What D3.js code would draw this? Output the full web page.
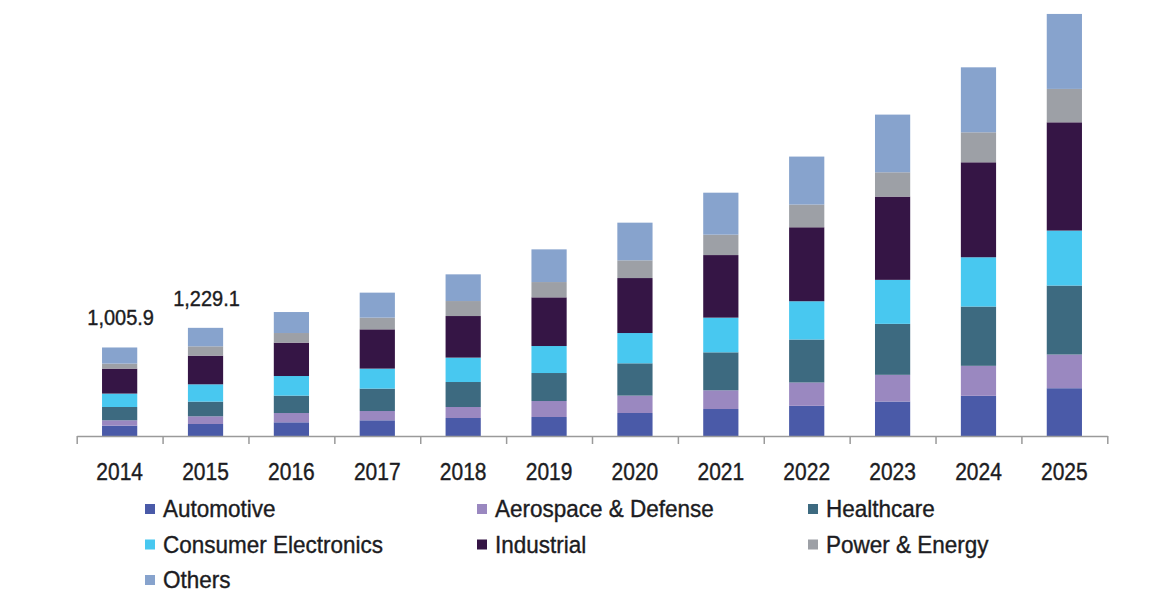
<!DOCTYPE html>
<html>
<head>
<meta charset="utf-8">
<script src="https://cdn.jsdelivr.net/npm/d3@7"></script>
<style>
  body { margin: 0; background: #fff; }
  text { font-family: "Liberation Sans", Arial, sans-serif; fill: #1c1c22; stroke: #1c1c22; stroke-width: 0.35px; }
</style>
</head>
<body>
<div id="chart"></div>
<script>
// data
const years = ["2014","2015","2016","2017","2018","2019","2020","2021","2022","2023","2024","2025"];
const automotive = [118.2, 136.3, 155.6, 178.4, 204.5, 215.8, 261.3, 306.7, 343.1, 391.9, 456.7, 543.0];
const aerospace  = [60.4, 87.5, 105.6, 105.6, 125.0, 181.8, 197.7, 212.4, 264.7, 303.3, 340.8, 382.8];
const healthcare = [151.1, 167.0, 197.7, 254.5, 284.0, 318.1, 366.9, 431.7, 488.5, 579.4, 673.6, 783.8];
const consumer   = [152.2, 196.5, 222.7, 227.2, 277.2, 306.7, 344.2, 394.2, 435.1, 499.8, 560.0, 624.8];
const industrial = [284.0, 326.0, 379.4, 446.4, 472.6, 553.2, 624.8, 711.1, 840.6, 946.3, 1079.2, 1230.3];
const power      = [56.8, 105.6, 109.1, 132.9, 170.4, 173.8, 201.1, 231.7, 257.9, 276.0, 340.8, 379.4];
const others     = [183.2, 210.2, 238.6, 284.0, 303.3, 371.5, 428.3, 477.1, 545.3, 655.5, 738.4, 852.0];
const seriesNames = ["Automotive","Aerospace & Defense","Healthcare","Consumer Electronics","Industrial","Power & Energy","Others"];
const labeledYears = ["2014","2015"];

const colors = ["#4a5aa8","#9a88c0","#3d6a80","#48c8f0","#351545","#9da0a6","#87a3cd"];

const width = 1164, height = 592;
const svg = d3.select('#chart').append('svg')
    .attr('width', width)
    .attr('height', height);

// build rows for the stack
const allSeries = [automotive, aerospace, healthcare, consumer, industrial, power, others];
const rows = years.map((y, i) => {
    const r = {year: y};
    seriesNames.forEach((s, k) => r[s] = allSeries[k][i]);
    return r;
});
const stacked = d3.stack().keys(seriesNames)(rows);

//scales
const xScale = d3.scaleBand()
    .domain(years)
    .range([76.7, 1107.3])
    .paddingInner(0.59)
    .paddingOuter(0.295);
const yScale = d3.scaleLinear([0, 5000], [436, -4]);

//bars
svg.append('g').selectAll('g')
    .data(stacked)
    .enter()
    .append('g')
    .attr('fill', (d, i) => colors[i])
    .selectAll('rect')
    .data(d => d)
    .enter()
    .append('rect')
    .attr('x', d => xScale(d.data.year))
    .attr('y', d => yScale(d[1]))
    .attr('width', xScale.bandwidth())
    .attr('height', d => yScale(d[0]) - yScale(d[1]));

//axis line with ticks between the bars
const idx = d3.scaleLinear([0, years.length], [76.7, 1107.3]);
const tickAxis = svg.append('g')
    .attr('transform', 'translate(0,436)')
    .call(d3.axisBottom(idx).tickValues(d3.range(years.length + 1)).tickFormat('').tickSizeInner(8).tickSizeOuter(0));
tickAxis.selectAll('path, line').attr('stroke', '#9a9a9a').attr('stroke-width', 1.5);

//year labels
const stretch = 'scale(1,1.12)';
svg.append('g').selectAll('g')
    .data(years)
    .enter()
    .append('g')
    .attr('transform', d => `translate(${xScale(d) + xScale.bandwidth() / 2},480) ${stretch}`)
    .append('text')
    .attr('text-anchor', 'middle')
    .style('font-size', '21px')
    .text(d => d);

//totals above first bars
const fmt = d3.format(',.1f');
svg.append('g').selectAll('g')
    .data(rows.filter(r => labeledYears.includes(r.year)))
    .enter()
    .append('g')
    .attr('transform', d => {
        const total = d3.sum(seriesNames, s => d[s]);
        return `translate(${xScale(d.year) + xScale.bandwidth() / 2 + 1},${yScale(total) - 22}) ${stretch}`;
    })
    .append('text')
    .attr('text-anchor', 'middle')
    .style('font-size', '20px')
    .text(d => fmt(d3.sum(seriesNames, s => d[s])));

//legend, 3 columns
const colX = [145, 477, 808];
const legend = svg.append('g').selectAll('g')
    .data(seriesNames)
    .enter()
    .append('g')
    .attr('transform', (d, i) => `translate(${colX[i % 3]},${517 + Math.floor(i / 3) * 35.5})`);
legend.append('rect')
    .attr('y', -13)
    .attr('width', 10)
    .attr('height', 10)
    .attr('fill', (d, i) => colors[i]);
legend.append('g')
    .attr('transform', 'translate(18,0) scale(1,1.08)')
    .append('text')
    .style('font-size', '22.5px')
    .text(d => d);
</script>
</body>
</html>
